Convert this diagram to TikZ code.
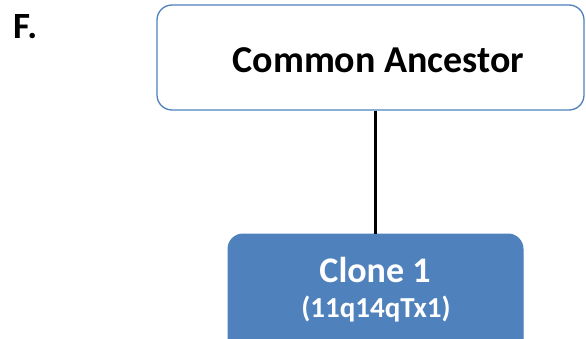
\documentclass[tikz,border=0pt]{standalone}
\usepackage{fontspec}
\setmainfont{Carlito}
\definecolor{accblue}{HTML}{4F81BD}
\begin{document}
\begin{tikzpicture}[x=1pt,y=-1pt,
  box/.style={draw=accblue,line width=1.3pt,rounded corners=15pt,fill=white,inner sep=0pt},
  clonebox/.style={draw=accblue,line width=1pt,rounded corners=15pt,fill=accblue,inner sep=0pt},
  lbl/.style={font=\bfseries,inner sep=0pt,anchor=base}]
\useasboundingbox (0,0) rectangle (586,339);
\clip (0,0) rectangle (586,339);
\node[box,minimum width=427pt,minimum height=105pt] (anc) at (370.5,57.5) {};
\node[clonebox,minimum width=295pt,minimum height=120pt] (clone) at (375.5,294) {};
\draw[line width=3pt] (clone.north |- anc.south) -- (clone.north);
\node[lbl,font=\bfseries\fontsize{38}{42}\selectfont] (t1) at (378.5,73) {Common Ancestor};
\node[lbl,font=\bfseries\fontsize{36}{40}\selectfont,text=white] (t2) at (375,282) {Clone 1};
\node[lbl,font=\bfseries\fontsize{29}{33}\selectfont,text=white] (t3) at (376,317) {(11q14qTx1)};
\node[lbl,font=\bfseries\fontsize{37}{40}\selectfont,anchor=base west] (f) at (13,39) {F.};
\end{tikzpicture}
\end{document}
